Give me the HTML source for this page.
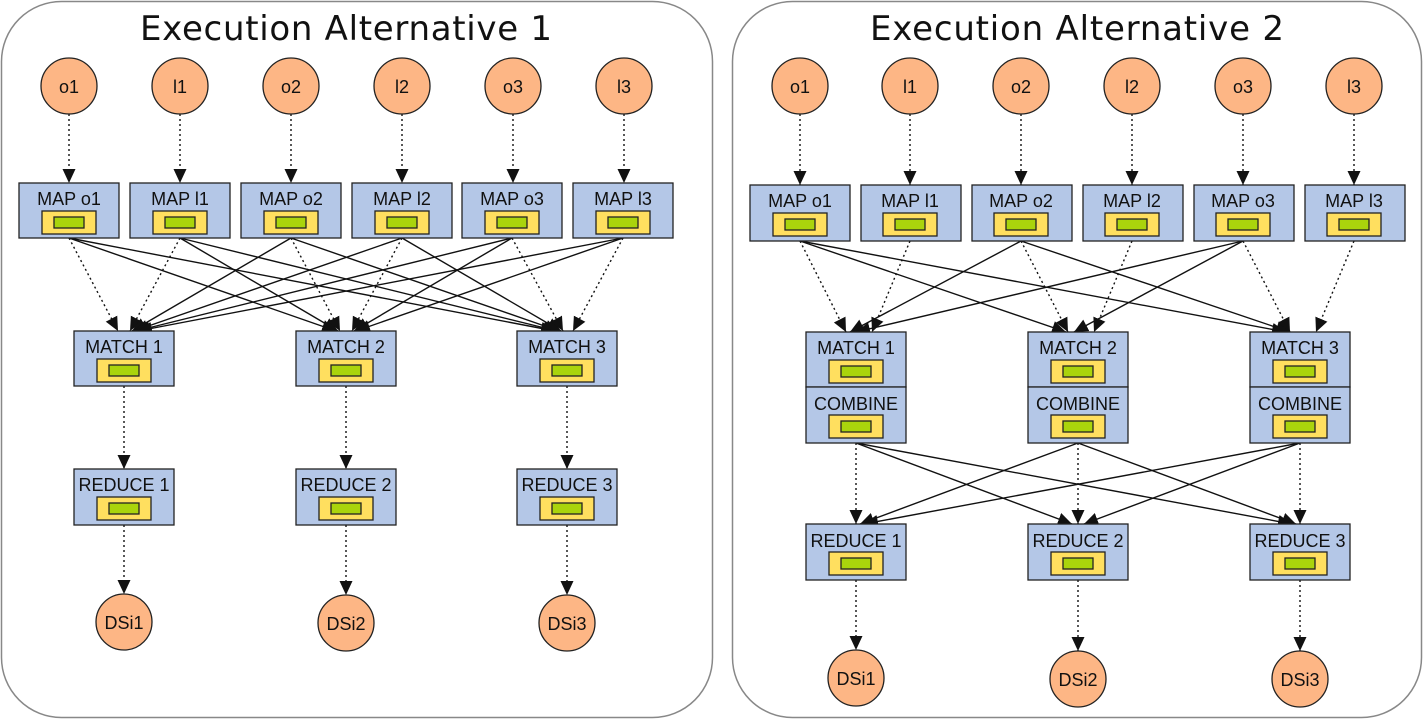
<!DOCTYPE html>
<html><head><meta charset="utf-8"><style>
html,body{margin:0;padding:0;background:#fff}
svg{display:block}
text{font-family:"Liberation Sans",Arial,sans-serif;fill:#111}
.t{font-family:"DejaVu Sans","Liberation Sans",sans-serif;font-size:34px}
.l{font-size:18px;text-anchor:middle}
.b{fill:#b4c7e7;stroke:#222;stroke-width:1.3}
.y{fill:#ffdf5f;stroke:#222;stroke-width:1.3}
.g{fill:#aad40c;stroke:#222;stroke-width:1.3}
.c{fill:#fdb685;stroke:#222;stroke-width:1.3}
.s{stroke:#111;stroke-width:1.4;fill:none;marker-end:url(#a)}
.d{stroke:#111;stroke-width:1.4;fill:none;stroke-dasharray:2 3;marker-end:url(#a)}
</style></head><body>
<svg width="1424" height="720" viewBox="0 0 1424 720" xmlns="http://www.w3.org/2000/svg">
<defs>
<marker id="a" markerUnits="userSpaceOnUse" markerWidth="16" markerHeight="14" refX="14" refY="6.5" orient="auto"><path d="M0,0 L14,6.5 L0,13 Z" fill="#111"/></marker>
<g id="in"><rect class="y" x="-27" y="28" width="54" height="23"/><rect class="g" x="-15" y="34" width="30" height="11"/></g>
</defs>
<rect x="1.5" y="1.5" width="711" height="716" rx="60" fill="#fff" stroke="#888" stroke-width="1.5"/>
<rect x="732.5" y="1.5" width="689" height="716" rx="60" fill="#fff" stroke="#888" stroke-width="1.5"/>
<text class="t" x="140" y="40" textLength="412">Execution Alternative 1</text>
<text class="t" x="870" y="40" textLength="414">Execution Alternative 2</text>

<!-- LEFT -->
<g>
<line class="d" x1="69" y1="114" x2="69" y2="183"/><line class="d" x1="180" y1="114" x2="180" y2="183"/><line class="d" x1="291" y1="114" x2="291" y2="183"/><line class="d" x1="402" y1="114" x2="402" y2="183"/><line class="d" x1="513" y1="114" x2="513" y2="183"/><line class="d" x1="624" y1="114" x2="624" y2="183"/>
<circle class="c" cx="69" cy="86" r="28"/><circle class="c" cx="180" cy="86" r="28"/><circle class="c" cx="291" cy="86" r="28"/><circle class="c" cx="402" cy="86" r="28"/><circle class="c" cx="513" cy="86" r="28"/><circle class="c" cx="624" cy="86" r="28"/>
<text class="l" x="69" y="93">o1</text><text class="l" x="180" y="93">l1</text><text class="l" x="291" y="93">o2</text><text class="l" x="402" y="93">l2</text><text class="l" x="513" y="93">o3</text><text class="l" x="624" y="93">l3</text>
<line class="d" x1="69" y1="238" x2="118" y2="331"/><line class="s" x1="69" y1="238" x2="336" y2="331"/><line class="s" x1="69" y1="238" x2="555" y2="331"/>
<line class="d" x1="180" y1="238" x2="130" y2="331"/><line class="s" x1="180" y1="238" x2="338" y2="331"/><line class="s" x1="180" y1="238" x2="557" y2="331"/>
<line class="s" x1="291" y1="238" x2="132" y2="331"/><line class="d" x1="291" y1="238" x2="340" y2="331"/><line class="s" x1="291" y1="238" x2="559" y2="331"/>
<line class="s" x1="402" y1="238" x2="134" y2="331"/><line class="d" x1="402" y1="238" x2="352" y2="331"/><line class="s" x1="402" y1="238" x2="561" y2="331"/>
<line class="s" x1="512" y1="238" x2="136" y2="331"/><line class="s" x1="512" y1="238" x2="354" y2="331"/><line class="d" x1="512" y1="238" x2="563" y2="331"/>
<line class="s" x1="623" y1="238" x2="138" y2="331"/><line class="s" x1="623" y1="238" x2="356" y2="331"/><line class="d" x1="623" y1="238" x2="573" y2="331"/>
<rect class="b" x="19" y="183" width="100" height="55"/><rect class="b" x="130" y="183" width="100" height="55"/><rect class="b" x="241" y="183" width="100" height="55"/><rect class="b" x="352" y="183" width="100" height="55"/><rect class="b" x="462" y="183" width="100" height="55"/><rect class="b" x="573" y="183" width="100" height="55"/>
<text class="l" x="69" y="205">MAP o1</text><text class="l" x="180" y="205">MAP l1</text><text class="l" x="291" y="205">MAP o2</text><text class="l" x="402" y="205">MAP l2</text><text class="l" x="512" y="205">MAP o3</text><text class="l" x="623" y="205">MAP l3</text>
<use href="#in" x="69" y="183"/><use href="#in" x="180" y="183"/><use href="#in" x="291" y="183"/><use href="#in" x="402" y="183"/><use href="#in" x="512" y="183"/><use href="#in" x="623" y="183"/>
<line class="d" x1="124" y1="386" x2="124" y2="469"/><line class="d" x1="346" y1="386" x2="346" y2="469"/><line class="d" x1="567" y1="386" x2="567" y2="469"/>
<line class="d" x1="124" y1="525" x2="124" y2="594"/><line class="d" x1="346" y1="525" x2="346" y2="595"/><line class="d" x1="567" y1="525" x2="567" y2="595"/>
<rect class="b" x="74" y="331" width="100" height="55"/><rect class="b" x="296" y="331" width="100" height="55"/><rect class="b" x="517" y="331" width="100" height="55"/>
<text class="l" x="124" y="353">MATCH 1</text><text class="l" x="346" y="353">MATCH 2</text><text class="l" x="567" y="353">MATCH 3</text>
<use href="#in" x="124" y="331"/><use href="#in" x="346" y="331"/><use href="#in" x="567" y="331"/>
<rect class="b" x="74" y="469" width="100" height="56"/><rect class="b" x="296" y="469" width="100" height="56"/><rect class="b" x="517" y="469" width="100" height="56"/>
<text class="l" x="124" y="491">REDUCE 1</text><text class="l" x="346" y="491">REDUCE 2</text><text class="l" x="567" y="491">REDUCE 3</text>
<use href="#in" x="124" y="469"/><use href="#in" x="346" y="469"/><use href="#in" x="567" y="469"/>
<circle class="c" cx="124" cy="622" r="28"/><circle class="c" cx="346" cy="623" r="28"/><circle class="c" cx="567" cy="623" r="28"/>
<text class="l" x="124" y="629">DSi1</text><text class="l" x="346" y="630">DSi2</text><text class="l" x="567" y="630">DSi3</text>
</g>

<!-- RIGHT -->
<g>
<line class="d" x1="800" y1="114" x2="800" y2="185"/><line class="d" x1="910" y1="114" x2="910" y2="185"/><line class="d" x1="1021" y1="114" x2="1021" y2="185"/><line class="d" x1="1132" y1="114" x2="1132" y2="185"/><line class="d" x1="1243" y1="114" x2="1243" y2="185"/><line class="d" x1="1354" y1="114" x2="1354" y2="185"/>
<circle class="c" cx="800" cy="86" r="28"/><circle class="c" cx="910" cy="86" r="28"/><circle class="c" cx="1021" cy="86" r="28"/><circle class="c" cx="1132" cy="86" r="28"/><circle class="c" cx="1243" cy="86" r="28"/><circle class="c" cx="1354" cy="86" r="28"/>
<text class="l" x="800" y="93">o1</text><text class="l" x="910" y="93">l1</text><text class="l" x="1021" y="93">o2</text><text class="l" x="1132" y="93">l2</text><text class="l" x="1243" y="93">o3</text><text class="l" x="1354" y="93">l3</text>
<line class="d" x1="800" y1="241" x2="846" y2="332"/><line class="s" x1="800" y1="241" x2="1066" y2="332"/><line class="s" x1="800" y1="241" x2="1286" y2="332"/>
<line class="s" x1="1021" y1="241" x2="850" y2="332"/><line class="d" x1="1021" y1="241" x2="1068" y2="332"/><line class="s" x1="1021" y1="241" x2="1290" y2="332"/>
<line class="s" x1="1243" y1="241" x2="856" y2="332"/><line class="s" x1="1243" y1="241" x2="1074" y2="332"/><line class="d" x1="1243" y1="241" x2="1290" y2="332"/>
<line class="d" x1="910" y1="241" x2="872" y2="332"/><line class="d" x1="1132" y1="241" x2="1094" y2="332"/><line class="d" x1="1354" y1="241" x2="1316" y2="332"/>
<rect class="b" x="750" y="185" width="100" height="56"/><rect class="b" x="861" y="185" width="100" height="56"/><rect class="b" x="972" y="185" width="100" height="56"/><rect class="b" x="1083" y="185" width="100" height="56"/><rect class="b" x="1194" y="185" width="100" height="56"/><rect class="b" x="1305" y="185" width="100" height="56"/>
<text class="l" x="800" y="207">MAP o1</text><text class="l" x="910" y="207">MAP l1</text><text class="l" x="1021" y="207">MAP o2</text><text class="l" x="1132" y="207">MAP l2</text><text class="l" x="1243" y="207">MAP o3</text><text class="l" x="1354" y="207">MAP l3</text>
<use href="#in" x="800" y="185"/><use href="#in" x="910" y="185"/><use href="#in" x="1021" y="185"/><use href="#in" x="1132" y="185"/><use href="#in" x="1243" y="185"/><use href="#in" x="1354" y="185"/>
<line class="d" x1="856" y1="443" x2="856" y2="524"/><line class="s" x1="856" y1="443" x2="1072" y2="524"/><line class="s" x1="856" y1="443" x2="1292" y2="524"/>
<line class="s" x1="1078" y1="443" x2="860" y2="524"/><line class="d" x1="1078" y1="443" x2="1078" y2="524"/><line class="s" x1="1078" y1="443" x2="1296" y2="524"/>
<line class="s" x1="1300" y1="443" x2="864" y2="524"/><line class="s" x1="1300" y1="443" x2="1084" y2="524"/><line class="d" x1="1300" y1="443" x2="1300" y2="524"/>
<line class="d" x1="856" y1="580" x2="856" y2="650"/><line class="d" x1="1078" y1="580" x2="1078" y2="651"/><line class="d" x1="1300" y1="580" x2="1300" y2="651"/>
<rect class="b" x="806" y="332" width="100" height="55"/><rect class="b" x="1028" y="332" width="100" height="55"/><rect class="b" x="1250" y="332" width="100" height="55"/>
<rect class="b" x="806" y="387" width="100" height="56"/><rect class="b" x="1028" y="387" width="100" height="56"/><rect class="b" x="1250" y="387" width="100" height="56"/>
<text class="l" x="856" y="354">MATCH 1</text><text class="l" x="1078" y="354">MATCH 2</text><text class="l" x="1300" y="354">MATCH 3</text>
<text class="l" x="856" y="410">COMBINE</text><text class="l" x="1078" y="410">COMBINE</text><text class="l" x="1300" y="410">COMBINE</text>
<use href="#in" x="856" y="332"/><use href="#in" x="1078" y="332"/><use href="#in" x="1300" y="332"/>
<use href="#in" x="856" y="387"/><use href="#in" x="1078" y="387"/><use href="#in" x="1300" y="387"/>
<rect class="b" x="806" y="524" width="100" height="56"/><rect class="b" x="1028" y="524" width="100" height="56"/><rect class="b" x="1250" y="524" width="100" height="56"/>
<text class="l" x="856" y="547">REDUCE 1</text><text class="l" x="1078" y="547">REDUCE 2</text><text class="l" x="1300" y="547">REDUCE 3</text>
<use href="#in" x="856" y="524"/><use href="#in" x="1078" y="524"/><use href="#in" x="1300" y="524"/>
<circle class="c" cx="856" cy="678" r="28"/><circle class="c" cx="1078" cy="679" r="28"/><circle class="c" cx="1300" cy="679" r="28"/>
<text class="l" x="856" y="685">DSi1</text><text class="l" x="1078" y="686">DSi2</text><text class="l" x="1300" y="686">DSi3</text>
</g>
</svg>
</body></html>
